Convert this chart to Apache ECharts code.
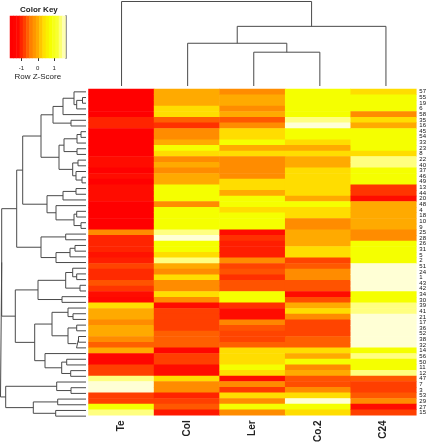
<!DOCTYPE html>
<html><head><meta charset="utf-8">
<style>html,body{margin:0;padding:0;background:#fff}#c{width:429px;height:445px}</style>
<script src="https://cdn.jsdelivr.net/npm/echarts@6/dist/echarts.min.js"></script>
</head><body><div id="c"></div>
<script>
const columns = ['Te','Col','Ler','Co.2','C24'];
const rowLabels = ['57','55','19','6','58','35','16','45','54','33','23','8','22','40','37','46','49','13','44','20','48','4','18','10','9','25','28','26','31','5','2','51','24','1','43','42','34','30','39','41','21','17','36','52','38','32','14','56','50','11','12','47','7','3','53','29','27','15'];
const zTe  = [-1.6,-1.6,-1.6,-1.6,-1.6,-1.3,-1.3,-1.6,-1.6,-1.6, -1.6,-1.6,-1.5,-1.5,-1.6,-1.5,-1.6,-1.5,-1.5,-1.5, -1.6,-1.6,-1.6,-1.6,-1.6,-0.4,-1.3,-1.3,-1.3,-1.45, -1.35,-1,-1.25,-1.25,-0.85,-1.15,-1.5,-1.55,0.4,0, 0,-0.4,0,0,-0.4,-0.75,0,-1.55,-1.55,-1.05, -1.05,1.2,1.6,1.6,-1.05,-1.05,0.8,1.2];
const zCol = [0,0,0,0.4,0.4,-0.75,-1.2,-0.4,-0.4,0, 0.8,0.4,-0.4,0,-0.4,0,0,0.8,0.8,0.8, -0.4,0.8,0.8,0.8,0.8,1.2,1.6,0.8,0.8,0.4, 1.2,0,-0.4,0.4,-0.4,-0.4,0.4,-0.4,-1.5,-1.05, -1.05,-1.05,-1.05,-0.75,-0.75,-0.75,-1.55,-1.05,-1.05,-1.5, -1.5,0.4,-0.4,-0.4,-1.3,-1.05,-0.8,-1.4];
const zLer = [-0.4,0,0,-0.4,0,-0.8,-0.4,0.4,0.4,0.8, 0,0.4,-0.4,-0.4,-0.4,-0.4,0.4,0.4,0,0.8, 0.8,0.4,0.8,0.8,0.8,-1.5,-1.2,-1.35,-1.35,-1.35, -0.4,-1,-0.85,-1.2,-0.85,-0.85,0.8,0.8,-1.2,-1.5, -1.5,-0.45,-0.85,-1,-1,-0.75,0.4,0.4,0.4,0.8, 0.4,-1.5,-0.4,-1.1,0.4,-0.4,0.8,-0.4];
const zCo2 = [0.8,0.8,0.8,0.8,0.8,1.2,1.6,0.8,0.8,0.4, 0,0.4,0,0,0.4,0.4,0.4,0.4,0.4,0, 0.8,0.4,0.4,-0.4,-0.4,0,0,0,0.4,0.4, -1,-0.8,-0.4,-0.4,-0.85,-0.85,-1.5,-0.9,0,0.4, -0.4,-1,-1,-1,-0.75,-0.75,0.4,0,0.8,-0.4, 0,-0.85,-0.9,-0.4,0.4,1.6,0.8,0.4];
const zC24 = [0.4,0.8,0.8,0.8,-0.4,0.4,0,0.8,0.8,0.8, 0.8,0.4,1.2,1.2,0.8,0.8,0.8,-1.15,-1.15,-1.5, 0,0,0,0,0,-0.4,-0.4,0.8,0.8,0.8, 0.8,1.6,1.6,1.6,1.6,1.6,0.8,0.8,1.2,1.2, 1.6,1.6,1.6,1.6,1.6,1.6,0.8,1.2,0.8,0.8, 1.2,-0.8,-1.05,-1.05,-0.8,-0.4,-1.5,-1.05];
const keyBins = ['-1.6','-1.4','-1.2','-1','-0.8','-0.6','-0.4','-0.2','0','0.2','0.4','0.6','0.8','1','1.2','1.4','1.6'];
const keyTicks = ['-1','0','1'];
const ramp = ['#FF0000','#FF3000','#FF5800','#FF8C00','#FFAA00','#FFDD00','#F5FF00','#FFFF80','#FFFFD5'];
const keyRamp = ['#FF0000','#FF0800','#FF4000','#FF8000','#FFAA00','#FFE000','#F5FF00','#F8FF30','#FFFFB0'];
// trees: [merge height, child, child]; a number is a leaf position
const colTree = [85,0,[60,[43,1,[34,2,3]],4]];
const g3 = [27,[22,[9,[5,7,8],9],[9,10,11]],[13.3,[8,12,13],[10,14,[4,15,16]]]];
const nA = [45,[33,[23,[12,0,[9.3,3,[3.5,1,2]]],4],[15,5,6]],g3];
const nB = [39,[23,[10,17,18],19],[30,20,[12,[9.3,21,22],[5,23,24]]]];
const nD = [45,[20.3,25,26],[30,[16,[11,27,28],29],30]];
const nE = [48,[20.3,[13.3,31,[9.3,32,33]],[6,34,35]],[24,36,37]];
const nF = [34,[18,38,[13,39,40]],[18,[9.3,41,42],[9.5,[7.5,43,44],45]]];
const nG = [51.3,nF,[41,46,[24.3,[19.3,47,48],[15.3,49,50]]]];
const rowTree = [85.5,[84.3,[69.3,[63.3,nA,nB],nD],[70.7,nE,nG]],[80.3,[29.3,51,[15,52,53]],[52.7,[28.3,54,55],[30.3,56,57]]]];

function segments(tree, horizontal){
  const out = [];
  const pt = (h,p)=> horizontal ? [h,p] : [p,h];
  function walk(n){
    if (typeof n === 'number') return {h:0,p:n+0.5};
    const a = walk(n[1]), b = walk(n[2]);
    out.push(pt(a.h,a.p),pt(n[0],a.p),pt(n[0],b.p),pt(b.h,b.p),null);
    return {h:n[0],p:(a.p+b.p)/2};
  }
  walk(tree);
  return out;
}
const cols = [zTe,zCol,zLer,zCo2,zC24];
const cells = [];
cols.forEach((c,x)=>c.forEach((v,y)=>cells.push([x,y,v])));
const keyCells = keyBins.map((b,i)=>[i,0,Number(b)]);
const dendroLine = {color:'#4a4a4a',width:1};
const hideAxis = {show:false};
const chart = echarts.init(document.getElementById('c'),null,{renderer:'canvas'});
chart.setOption({
  animation:false,
  backgroundColor:'#fff',
  textStyle:{fontFamily:'"Liberation Sans",Arial,sans-serif'},
  title:{text:'Color Key',left:15,top:1,textStyle:{fontSize:8,fontWeight:'bold',color:'#222',fontFamily:'"Liberation Sans",Arial,sans-serif'}},
  visualMap:[
    {type:'continuous',min:-1.6,max:1.6,show:false,seriesIndex:0,dimension:2,inRange:{color:ramp}},
    {type:'continuous',min:-1.6,max:1.6,show:false,seriesIndex:3,dimension:2,inRange:{color:keyRamp}}
  ],
  grid:[
    {left:88.5,top:89,width:330.5,height:330,containLabel:false},
    {left:88.5,top:0.5,width:330.5,height:85.5},
    {left:0,top:89,width:86,height:330},
    {left:10,top:16,width:55.5,height:42}
  ],
  xAxis:[
    {gridIndex:0,type:'category',data:columns,position:'bottom',axisLine:hideAxis,axisTick:hideAxis,splitLine:hideAxis,
     axisLabel:{rotate:90,fontSize:10,fontWeight:'bold',color:'#222',margin:5,interval:0,align:'right',verticalAlign:'middle'}},
    {gridIndex:1,type:'value',min:0,max:5,show:false},
    {gridIndex:2,type:'value',min:0,max:86,inverse:true,show:false},
    {gridIndex:3,type:'category',data:keyBins,position:'bottom',
     axisLine:hideAxis,splitLine:hideAxis,
     axisTick:{show:true,alignWithLabel:true,length:3,lineStyle:{color:'#333'},interval:(i,v)=>keyTicks.includes(v)},
     axisLabel:{show:true,fontSize:6,color:'#222',margin:7,interval:(i,v)=>keyTicks.includes(v)},
     name:'Row Z-Score',nameLocation:'middle',nameGap:15,nameTextStyle:{fontSize:8,color:'#222'}}
  ],
  yAxis:[
    {gridIndex:0,type:'category',data:rowLabels,inverse:true,position:'right',axisLine:hideAxis,axisTick:hideAxis,splitLine:hideAxis,
     axisLabel:{fontSize:6,color:'#111',margin:3,interval:0}},
    {gridIndex:1,type:'value',min:0,max:86,show:false},
    {gridIndex:2,type:'value',min:0,max:58,inverse:true,show:false},
    {gridIndex:3,type:'category',data:['z'],position:'right',axisLine:{show:true,lineStyle:{color:'#999',width:2}},axisTick:hideAxis,axisLabel:hideAxis,splitLine:hideAxis}
  ],
  series:[
    {type:'heatmap',xAxisIndex:0,yAxisIndex:0,data:cells,silent:true,progressive:0},
    {type:'line',xAxisIndex:1,yAxisIndex:1,data:segments(colTree,false),showSymbol:false,silent:true,lineStyle:dendroLine,connectNulls:false},
    {type:'line',xAxisIndex:2,yAxisIndex:2,data:segments(rowTree,true),showSymbol:false,silent:true,lineStyle:dendroLine,connectNulls:false},
    {type:'heatmap',xAxisIndex:3,yAxisIndex:3,data:keyCells,silent:true,progressive:0}
  ]
});
</script></body></html>
